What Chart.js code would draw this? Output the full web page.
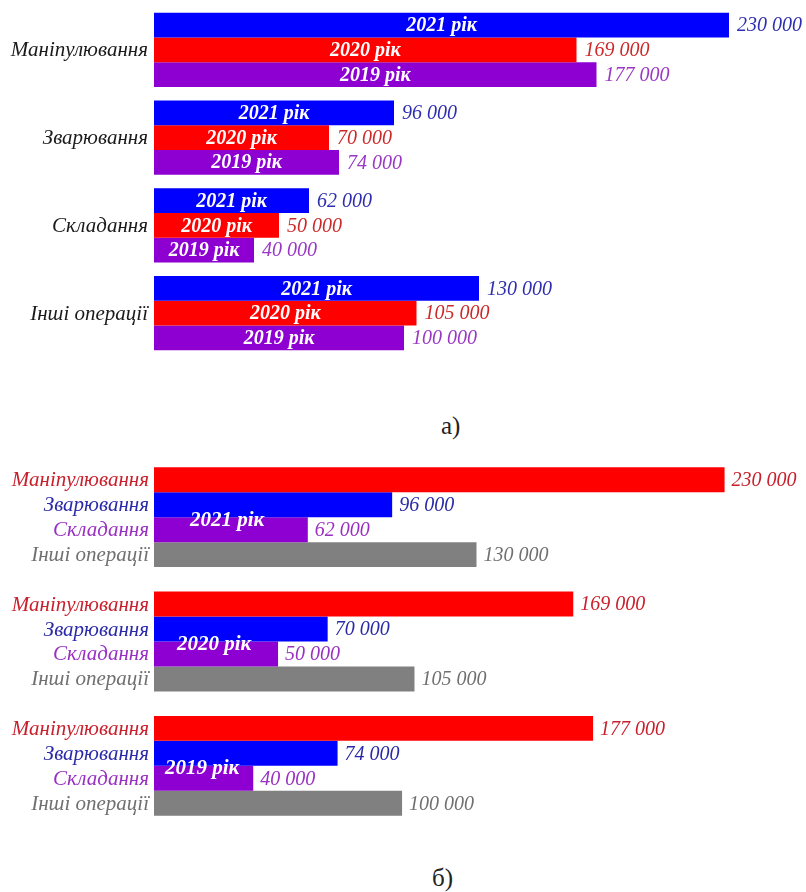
<!DOCTYPE html>
<html>
<head>
<meta charset="utf-8">
<script src="https://cdn.jsdelivr.net/npm/chart.js@4"></script>
<style>
  body { margin: 0; background: #ffffff; }
  #wrap { position: relative; width: 806px; height: 892px; }
  canvas { position: absolute; left: 0; }
  .cap { position: absolute; font-family: 'Liberation Serif', serif; font-size: 25px; color: #222; }
</style>
</head>
<body>
<div id="wrap">
  <canvas id="chartA" width="806" height="380" style="top:0"></canvas>
  <div class="cap" style="left:441px; top:412px">а)</div>
  <canvas id="chartB" width="806" height="400" style="top:440px"></canvas>
  <div class="cap" style="left:432px; top:864px">б)</div>
</div>
<script>
// Дані
const operations = ['Маніпулювання', 'Зварювання', 'Складання', 'Інші операції'];
const years = ['2021', '2020', '2019'];
const values2021 = [230000, 96000, 62000, 130000];
const values2020 = [169000, 70000, 50000, 105000];
const values2019 = [177000, 74000, 40000, 100000];

// Стилі
const SERIF = "'Liberation Serif', 'Times New Roman', serif";
Chart.defaults.font.family = SERIF;
const yearColors = ['#0000ff', '#ff0000', '#8e00d2'];
const yearTextColors = ['#2e2eb0', '#cc2a2a', '#9a38c4'];
const opColors = ['#ff0000', '#0000ff', '#8e00d2', '#808080'];
const opTextColors = ['#c8202c', '#2a2aa8', '#9a30c2', '#707070'];
const yearLabelShift = [36, 23, 11];

function fmt(v) {
    return String(v).replace(/\B(?=(\d{3})+(?!\d))/g, ' ');
}

// Підписи для графіка а)
const labelsA = {
    id: 'labelsA',
    afterDatasetsDraw(chart) {
        const ctx = chart.ctx;
        const left = chart.chartArea.left;
        const yScale = chart.scales.y;
        ctx.save();
        ctx.textBaseline = 'middle';
        ctx.font = `italic 21px ${SERIF}`;
        ctx.fillStyle = '#1a1a1a';
        ctx.textAlign = 'right';
        operations.forEach((op, j) => {
            ctx.fillText(op, left - 6, yScale.getPixelForValue(j) + 1);
        });
        chart.data.datasets.forEach((ds, i) => {
            chart.getDatasetMeta(i).data.forEach((bar, j) => {
                ctx.font = `italic bold 20px ${SERIF}`;
                ctx.fillStyle = '#ffffff';
                ctx.textAlign = 'center';
                ctx.fillText(`${years[i]} рік`, (bar.base + bar.x) / 2, bar.y + 1);
                ctx.font = `italic 20px ${SERIF}`;
                ctx.fillStyle = yearTextColors[i];
                ctx.textAlign = 'left';
                ctx.fillText(fmt(ds.data[j]), bar.x + 8, bar.y + 1);
            });
        });
        ctx.restore();
    }
};

// Підписи для графіка б)
const labelsB = {
    id: 'labelsB',
    afterDatasetsDraw(chart) {
        const ctx = chart.ctx;
        const left = chart.chartArea.left;
        ctx.save();
        ctx.textBaseline = 'middle';
        chart.data.datasets.forEach((ds, i) => {
            chart.getDatasetMeta(i).data.forEach((bar, j) => {
                ctx.font = `italic 21px ${SERIF}`;
                ctx.fillStyle = opTextColors[i];
                ctx.textAlign = 'right';
                ctx.fillText(operations[i], left - 5, bar.y + 1);
                ctx.font = `italic 20px ${SERIF}`;
                ctx.textAlign = 'left';
                ctx.fillText(fmt(ds.data[j]), bar.x + 7, bar.y + 1);
            });
        });
        const yScale = chart.scales.y;
        ctx.font = `italic bold 21px ${SERIF}`;
        ctx.fillStyle = '#ffffff';
        ctx.textAlign = 'left';
        years.forEach((y, j) => {
            ctx.fillText(`${y} рік`, left + yearLabelShift[j], yScale.getPixelForValue(j) + 3);
        });
        ctx.restore();
    }
};

new Chart(document.getElementById('chartA'), {
    type: 'bar',
    data: {
        labels: operations,
        datasets: [values2021, values2020, values2019].map((d, i) => ({
            label: years[i],
            data: d,
            backgroundColor: yearColors[i],
            borderWidth: 0,
            categoryPercentage: 0.844,
            barPercentage: 1
        }))
    },
    options: {
        indexAxis: 'y',
        responsive: false,
        animation: false,
        layout: { padding: { top: 6, bottom: 23, left: 154, right: 2 } },
        plugins: { legend: { display: false }, tooltip: { enabled: false } },
        scales: {
            x: { display: false, min: 0, max: 260000 },
            y: { display: false }
        }
    },
    plugins: [labelsA]
});

new Chart(document.getElementById('chartB'), {
    type: 'bar',
    data: {
        labels: years,
        datasets: operations.map((op, i) => ({
            label: op,
            data: [values2021[i], values2020[i], values2019[i]],
            backgroundColor: opColors[i],
            borderWidth: 0,
            categoryPercentage: 0.803,
            barPercentage: 1
        }))
    },
    options: {
        indexAxis: 'y',
        responsive: false,
        animation: false,
        layout: { padding: { top: 15, bottom: 12, left: 154, right: 7 } },
        plugins: { legend: { display: false }, tooltip: { enabled: false } },
        scales: {
            x: { display: false, min: 0, max: 260000 },
            y: { display: false }
        }
    },
    plugins: [labelsB]
});
</script>
</body>
</html>
